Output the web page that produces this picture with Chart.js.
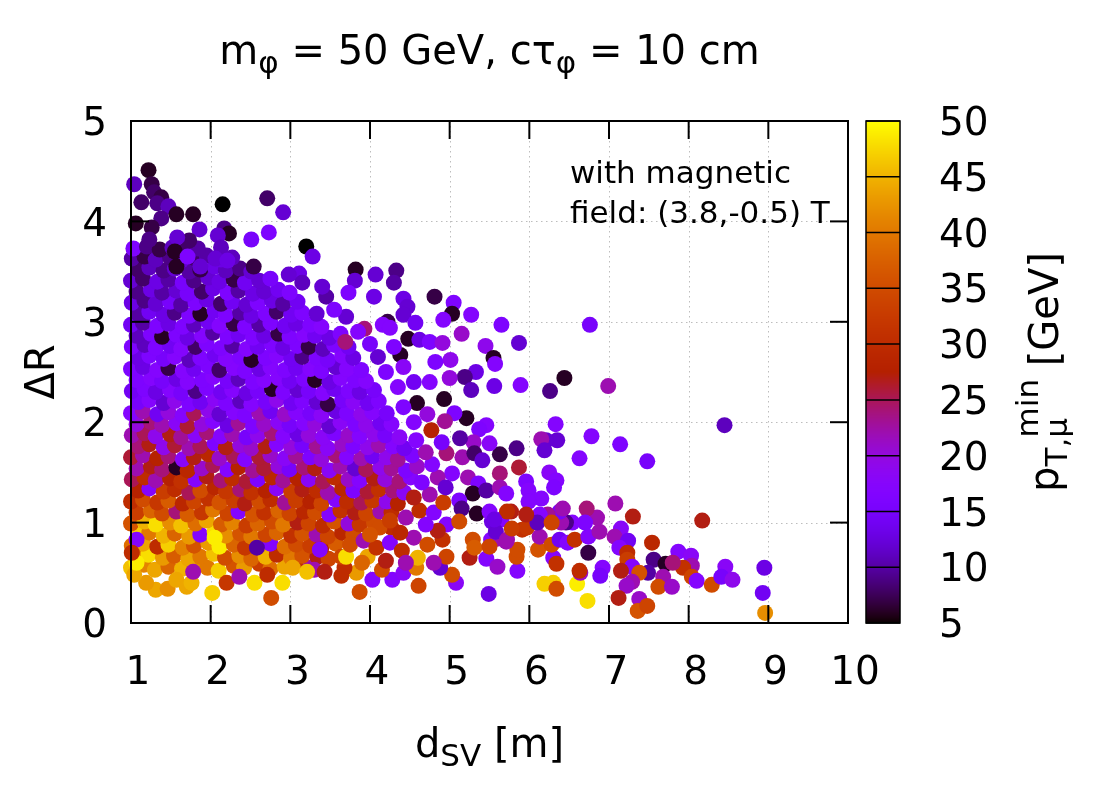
<!DOCTYPE html>
<html><head><meta charset="utf-8">
<script src="https://cdn.jsdelivr.net/npm/chart.js@4.4.1/dist/chart.umd.min.js"></script>
<style>html,body{margin:0;padding:0;background:#fff;}canvas{display:block;}</style>
</head><body>
<canvas id="c" width="1100" height="800"></canvas>
<script>
// ---------- data ----------
const xTickVals = [1,2,3,4,5,6,7,8,9,10];
const yTickVals = [0,1,2,3,4,5];
const cbTickVals = [5,10,15,20,25,30,35,40,45,50];

// d_SV [m]
const dsv = [
1.00,1.16,1.30,1.47,1.64,1.79,1.96,2.10,2.29,2.42,2.61,2.75,2.93,3.07,3.25,
1.08,1.22,1.40,1.54,1.72,1.87,2.04,2.18,2.36,2.51,2.69,2.83,3.01,3.15,3.34,3.48,
1.01,1.15,1.33,1.47,1.65,1.79,1.97,2.11,2.29,2.43,2.61,2.75,2.93,3.07,3.25,3.39,3.57,
1.09,1.23,1.41,1.55,1.73,1.87,2.05,2.19,2.37,2.51,2.69,2.83,3.01,3.15,3.33,3.47,3.65,3.79,
1.00,1.17,1.31,1.49,1.63,1.81,1.95,2.13,2.27,2.45,2.59,2.77,2.91,3.09,3.23,3.41,3.55,3.73,3.87,4.05,
1.07,1.25,1.39,1.57,1.71,1.89,2.03,2.21,2.35,2.53,2.67,2.85,2.99,3.17,3.31,3.49,3.63,3.81,3.95,4.13,4.27,
1.00,1.15,1.33,1.47,1.65,1.79,1.97,2.11,2.29,2.43,2.61,2.75,2.93,3.07,3.25,3.39,3.57,3.71,3.89,4.03,4.21,4.35,
1.09,1.23,1.41,1.55,1.73,1.87,2.05,2.19,2.37,2.51,2.69,2.83,3.01,3.15,3.33,3.47,3.65,3.79,3.97,4.11,4.29,4.43,
1.01,1.17,1.31,1.49,1.63,1.81,1.95,2.13,2.27,2.45,2.59,2.77,2.91,3.09,3.23,3.41,3.55,3.73,3.87,4.05,4.19,4.37,4.51,
1.07,1.25,1.39,1.57,1.71,1.89,2.03,2.21,2.35,2.53,2.67,2.85,2.99,3.17,3.31,3.49,3.63,3.81,3.95,4.13,4.27,4.45,4.59,
1.00,1.15,1.33,1.47,1.65,1.79,1.97,2.11,2.29,2.43,2.61,2.75,2.93,3.07,3.25,3.39,3.57,3.71,3.89,4.03,4.21,4.35,4.53,
1.09,1.23,1.41,1.55,1.73,1.87,2.05,2.19,2.37,2.51,2.69,2.83,3.01,3.15,3.33,3.47,3.65,3.79,3.97,4.11,4.29,4.43,
1.01,1.17,1.31,1.49,1.63,1.81,1.95,2.13,2.27,2.45,2.59,2.77,2.91,3.09,3.23,3.41,3.55,3.73,3.87,4.05,4.19,4.37,
1.07,1.25,1.39,1.57,1.71,1.89,2.03,2.21,2.35,2.53,2.67,2.85,2.99,3.17,3.31,3.49,3.63,3.81,3.95,4.13,4.27,
1.00,1.15,1.33,1.47,1.65,1.79,1.97,2.11,2.29,2.43,2.61,2.75,2.93,3.07,3.25,3.39,3.57,3.71,3.89,4.03,4.21,
1.09,1.23,1.41,1.55,1.73,1.87,2.05,2.19,2.37,2.51,2.69,2.83,3.01,3.15,3.33,3.47,3.65,3.79,3.97,4.11,
1.01,1.17,1.31,1.49,1.63,1.81,1.95,2.13,2.27,2.45,2.59,2.77,2.91,3.09,3.23,3.41,3.55,3.73,3.87,4.05,
1.07,1.25,1.39,1.57,1.71,1.89,2.03,2.21,2.35,2.53,2.67,2.85,2.99,3.17,3.31,3.49,3.63,3.81,3.95,
1.00,1.15,1.33,1.47,1.65,1.79,1.97,2.11,2.29,2.43,2.61,2.75,2.93,3.07,3.25,3.39,3.57,3.71,3.89,
1.09,1.23,1.41,1.55,1.73,1.87,2.05,2.19,2.37,2.51,2.69,2.83,3.01,3.15,3.33,3.47,3.65,3.79,
1.01,1.17,1.31,1.49,1.63,1.81,1.95,2.13,2.27,2.45,2.59,2.77,2.91,3.09,3.23,3.41,3.55,3.73,
1.07,1.25,1.39,1.57,1.71,1.89,2.03,2.21,2.35,2.53,2.67,2.85,2.99,3.17,3.31,3.49,3.63,
1.00,1.15,1.33,1.47,1.65,1.79,1.97,2.11,2.29,2.43,2.61,2.75,2.93,3.07,3.25,3.39,
1.09,1.23,1.41,1.55,1.73,1.87,2.05,2.19,2.37,2.51,2.69,2.83,3.01,3.15,3.33,
1.01,1.17,1.31,1.49,1.63,1.81,1.95,2.13,2.27,2.45,2.59,2.77,2.91,3.09,
1.07,1.25,1.39,1.57,1.71,1.89,2.03,2.21,2.35,2.53,2.67,2.85,2.99,
1.00,1.15,1.33,1.47,1.65,1.79,1.97,2.11,2.29,2.43,2.61,2.75,
1.09,1.23,1.41,1.55,1.73,1.87,2.05,2.19,2.37,2.51,
1.01,1.17,1.31,1.49,1.63,1.81,1.95,2.13,2.27,
1.03,1.20,1.36,1.52,1.68,1.84,
1.22,1.04,1.26,1.29,1.38,1.13,1.33,1.47,1.57,1.78,
1.38,1.06,1.26,2.15,2.71,2.91,1.86,2.17,2.23,2.09,
2.51,2.73,1.73,1.23,1.58,2.13,3.20,1.55,2.06,2.21,
1.87,2.54,1.57,1.71,3.28,3.82,3.81,4.07,4.33,4.30,
4.81,5.05,4.05,4.42,4.47,4.42,4.57,4.48,4.62,4.75,
4.91,5.15,5.45,4.38,4.22,4.16,4.25,3.93,3.69,3.73,
3.45,3.11,2.98,3.15,5.03,5.27,5.65,6.76,5.87,5.55,
5.57,5.33,5.19,5.27,5.56,5.89,6.26,6.44,6.99,8.45,
6.33,6.78,7.14,7.48,6.63,6.35,6.21,6.15,6.19,5.84,
5.63,5.87,5.46,5.37,5.50,5.30,5.21,5.13,5.06,4.94,
4.93,5.01,4.92,5.00,6.25,6.34,5.96,5.63,5.99,6.15,
6.31,5.99,7.08,7.30,8.17,7.15,7.07,7.24,7.54,7.13,
7.23,7.23,7.56,7.71,7.87,8.03,8.04,7.93,7.80,7.29,
7.15,7.49,7.38,7.29,7.22,7.68,7.62,7.79,8.04,8.10,
8.29,8.46,8.41,8.55,8.95,8.93,8.96,7.12,7.38,7.36,
7.48,6.73,6.60,6.19,6.30,6.34,5.49,5.08,5.03,4.88,
5.46,5.60,5.85,5.84,5.85,6.11,6.30,6.34,6.74,6.64,
6.92,6.89,6.63,5.25,5.29,5.31,5.52,5.60,5.71,5.50,
5.91,5.97,6.13,6.28,6.38,6.48,6.57,6.74,6.88,6.85,
6.72,6.70,6.54,6.46,6.40,6.38,6.42,6.23,6.13,6.10,
6.28,5.96,5.77,5.65,5.53,5.58,5.72,5.78,4.59,4.77,
4.96,5.16,5.31,5.41,5.03,5.23,5.36,5.29,5.46,5.63,
5.71,5.12,5.15,5.34,5.50,5.72,5.56,4.96,5.12,4.91,
4.96,4.80,3.87,4.03,4.28,4.61,4.42,4.58,4.60,4.15,
4.27,4.12,3.97,3.83,3.68,3.64,3.70,3.37,3.30,3.43,
3.64,2.90,3.03,3.21,2.02,1.31,1.46,1.19,1.57,1.70,
1.76,1.04,2.20,2.36,2.55,2.76,2.71,2.58,2.05,1.78,
1.07,1.07,1.01,3.75,3.92,4.08,4.25,4.40,4.55,4.72,
4.85,4.00,4.38,4.20,4.70,3.90,4.45,4.25,4.45,4.62,
4.80,4.55,4.75,4.92,4.65,4.85,4.78,4.95,4.70,4.58,
4.90,4.55,4.72,4.42,4.35,4.55,4.20,4.42,4.10,4.00,
3.85,4.30,3.70,3.55,3.40,4.75,4.82
];

// Delta R
const deltaR = [
0.55,0.58,0.53,0.56,0.54,0.58,0.55,0.52,0.57,0.55,0.59,0.54,0.56,0.58,0.55,
0.66,0.68,0.65,0.67,0.64,0.66,0.69,0.65,0.67,0.64,0.66,0.68,0.65,0.67,0.66,0.64,
0.77,0.79,0.76,0.78,0.75,0.77,0.80,0.76,0.78,0.75,0.77,0.79,0.76,0.78,0.77,0.75,0.79,
0.88,0.90,0.87,0.89,0.86,0.88,0.91,0.87,0.89,0.86,0.88,0.90,0.87,0.89,0.88,0.86,0.90,0.88,
0.99,1.01,0.98,1.00,0.97,0.99,1.02,0.98,1.00,0.97,0.99,1.01,0.98,1.00,0.99,0.97,1.01,0.99,0.98,1.00,
1.10,1.12,1.09,1.11,1.08,1.10,1.13,1.09,1.11,1.08,1.10,1.12,1.09,1.11,1.10,1.08,1.12,1.10,1.09,1.11,1.10,
1.21,1.23,1.20,1.22,1.19,1.21,1.24,1.20,1.22,1.19,1.21,1.23,1.20,1.22,1.21,1.19,1.23,1.21,1.20,1.22,1.21,1.19,
1.32,1.34,1.31,1.33,1.30,1.32,1.35,1.31,1.33,1.30,1.32,1.34,1.31,1.33,1.32,1.30,1.34,1.32,1.31,1.33,1.32,1.30,
1.43,1.45,1.42,1.44,1.41,1.43,1.46,1.42,1.44,1.41,1.43,1.45,1.42,1.44,1.43,1.41,1.45,1.43,1.42,1.44,1.43,1.41,1.45,
1.54,1.56,1.53,1.55,1.52,1.54,1.57,1.53,1.55,1.52,1.54,1.56,1.53,1.55,1.54,1.52,1.56,1.54,1.53,1.55,1.54,1.52,1.56,
1.65,1.67,1.64,1.66,1.63,1.65,1.68,1.64,1.66,1.63,1.65,1.67,1.64,1.66,1.65,1.63,1.67,1.65,1.64,1.66,1.65,1.63,1.67,
1.76,1.78,1.75,1.77,1.74,1.76,1.79,1.75,1.77,1.74,1.76,1.78,1.75,1.77,1.76,1.74,1.78,1.76,1.75,1.77,1.76,1.74,
1.87,1.89,1.86,1.88,1.85,1.87,1.90,1.86,1.88,1.85,1.87,1.89,1.86,1.88,1.87,1.85,1.89,1.87,1.86,1.88,1.87,1.85,
1.98,2.00,1.97,1.99,1.96,1.98,2.01,1.97,1.99,1.96,1.98,2.00,1.97,1.99,1.98,1.96,2.00,1.98,1.97,1.99,1.98,
2.09,2.11,2.08,2.10,2.07,2.09,2.12,2.08,2.10,2.07,2.09,2.11,2.08,2.10,2.09,2.07,2.11,2.09,2.08,2.10,2.09,
2.20,2.22,2.19,2.21,2.18,2.20,2.23,2.19,2.21,2.18,2.20,2.22,2.19,2.21,2.20,2.18,2.22,2.20,2.19,2.21,
2.31,2.33,2.30,2.32,2.29,2.31,2.34,2.30,2.32,2.29,2.31,2.33,2.30,2.32,2.31,2.29,2.33,2.31,2.30,2.32,
2.42,2.44,2.41,2.43,2.40,2.42,2.45,2.41,2.43,2.40,2.42,2.44,2.41,2.43,2.42,2.40,2.44,2.42,2.41,
2.53,2.55,2.52,2.54,2.51,2.53,2.56,2.52,2.54,2.51,2.53,2.55,2.52,2.54,2.53,2.51,2.55,2.53,2.52,
2.64,2.66,2.63,2.65,2.62,2.64,2.67,2.63,2.65,2.62,2.64,2.66,2.63,2.65,2.64,2.62,2.66,2.64,
2.75,2.77,2.74,2.76,2.73,2.75,2.78,2.74,2.76,2.73,2.75,2.77,2.74,2.76,2.75,2.73,2.77,2.75,
2.86,2.88,2.85,2.87,2.84,2.86,2.89,2.85,2.87,2.84,2.86,2.88,2.85,2.87,2.86,2.84,2.88,
2.97,2.99,2.96,2.98,2.95,2.97,3.00,2.96,2.98,2.95,2.97,2.99,2.96,2.98,2.97,2.95,
3.08,3.10,3.07,3.09,3.06,3.08,3.11,3.07,3.09,3.06,3.08,3.10,3.07,3.09,3.08,
3.19,3.21,3.18,3.20,3.17,3.19,3.22,3.18,3.20,3.17,3.19,3.21,3.18,3.20,
3.30,3.32,3.29,3.31,3.28,3.30,3.33,3.29,3.31,3.28,3.30,3.32,3.29,
3.41,3.43,3.40,3.42,3.39,3.41,3.44,3.40,3.42,3.39,3.41,3.43,
3.52,3.54,3.51,3.53,3.50,3.52,3.55,3.51,3.53,3.50,
3.63,3.65,3.62,3.64,3.61,3.63,3.66,3.62,3.64,
3.73,3.75,3.72,3.74,3.71,3.73,
4.51,4.37,4.37,4.29,4.24,4.19,4.18,4.15,4.07,4.07,
4.03,3.98,3.94,4.17,4.23,4.09,3.92,3.93,3.88,3.86,
3.82,3.89,3.81,3.82,3.84,3.74,3.75,3.70,3.63,3.61,
3.55,3.55,3.55,3.65,3.65,3.52,3.41,3.47,3.51,3.39,
3.25,3.19,3.25,3.23,3.15,3.07,2.99,2.83,2.82,2.80,
2.79,2.88,2.76,2.67,3.00,2.97,2.94,2.93,2.80,3.29,
3.25,3.48,3.47,3.39,3.08,3.07,2.97,2.97,2.79,2.64,
2.58,2.50,2.45,2.32,2.36,2.37,2.31,2.44,2.36,1.97,
1.98,1.86,1.78,1.61,1.64,1.82,1.82,1.83,1.72,1.74,
1.68,1.55,1.97,1.93,1.79,1.80,2.04,1.84,2.09,2.01,
2.23,2.62,3.02,2.44,1.50,1.42,1.41,1.49,1.32,1.24,
1.35,1.21,1.19,1.06,1.02,0.94,0.86,0.82,0.80,0.75,
0.70,0.63,0.63,0.59,0.71,0.67,0.57,0.55,0.60,0.56,
0.52,0.50,0.50,0.41,0.37,0.46,0.36,0.36,0.46,0.42,
0.38,0.56,0.46,0.43,0.55,0.30,0.10,0.25,0.24,0.12,
0.17,0.22,0.39,0.39,0.40,0.34,0.29,0.40,0.48,0.55,
0.64,0.56,0.52,0.66,0.73,0.73,0.65,0.59,0.70,0.50,
0.55,0.47,0.52,0.65,0.83,0.75,0.83,0.84,0.81,0.76,
0.93,0.95,0.86,0.78,0.83,0.80,0.83,0.86,0.91,1.05,
1.14,1.00,1.00,1.00,1.00,1.11,1.14,1.08,1.08,1.00,
1.00,1.08,1.11,1.03,1.01,0.91,0.83,0.94,2.19,1.92,
1.69,1.65,1.69,1.62,1.49,1.45,1.39,1.29,1.32,1.35,
1.29,1.22,1.14,1.09,1.11,1.11,1.03,0.98,1.01,0.83,
0.66,0.60,0.31,0.43,0.43,0.37,0.50,0.55,0.65,0.53,
0.95,0.95,0.66,0.50,0.55,0.66,0.66,0.73,0.53,0.51,
0.47,0.40,0.55,0.51,0.30,0.33,0.34,0.40,0.43,0.36,
0.40,0.48,0.40,0.46,0.40,0.25,0.48,0.75,0.85,0.51,
0.60,0.83,0.70,0.78,0.82,0.75,0.80,0.72,0.85,0.78,
0.92,0.88,0.90,0.62,0.98,0.60,0.60,1.02,1.05,1.12,
1.10,1.25,1.28,1.20,1.40,1.45,1.58,1.35,1.70,1.82,
1.80,2.00,2.08,2.15,2.35,2.40,2.50,2.55,2.65,2.78,
2.90,2.75,3.05,3.12,3.35,2.40,2.60
];

// p_T,mu^min [GeV]
const ptMin = [
46,41,44,38,45,42,40,47,36,43,33,39,44,31,22,
41,48,43,37,44,40,46,35,42,38,45,30,40,36,27,34,
39,44,30,47,41,36,43,49,38,32,44,17,39,35,33,28,37,
47,40,45,38,43,17,48,42,36,40,34,38,31,36,22,34,29,35,
36,45,48,42,46,39,44,37,41,33,38,35,40,27,34,30,36,20,32,35,
33,38,35,24,37,32,40,34,17,36,31,38,34,29,35,17,31,27,34,22,30,
30,35,32,37,29,34,31,36,33,27,35,30,23,33,28,34,17,30,25,32,19,28,
28,17,33,30,25,35,29,32,24,31,28,18,33,27,30,22,29,16,26,31,24,18,
25,30,22,28,31,17,27,24,30,26,16,29,23,28,18,25,30,21,17,27,20,24,17,
22,27,24,6,29,21,25,17,28,23,26,20,15,24,27,18,22,12,25,19,23,16,21,
26,22,28,24,18,27,29,21,25,17,26,21,18,23,16,20,24,17,22,14,19,23,16,
24,27,19,26,22,25,16,27,20,21,27,17,20,15,23,18,21,16,19,22,17,14,
22,25,19,27,23,18,24,17,22,15,19,24,17,13,20,18,16,21,17,19,15,18,
20,24,22,18,26,20,17,13,23,16,21,18,15,17,20,12,18,16,19,14,17,
17,22,14,20,17,25,19,12,17,16,22,14,21,17,15,18,13,16,19,17,15,
15,17,12,19,16,14,18,16,11,17,15,19,14,16,12,7,15,18,14,16,
14,16,13,17,15,9,16,14,17,13,15,6,16,12,15,17,14,16,13,15,
16,17,15,13,17,16,17,15,11,16,17,17,14,16,6,13,17,16,17,
16,13,17,7,17,14,16,8,17,16,13,17,16,14,17,16,12,17,16,
13,16,15,17,11,16,14,17,16,6,16,17,14,9,16,15,17,13,
16,11,16,14,17,8,16,16,10,17,14,16,13,16,7,11,16,14,
11,16,6,16,13,17,10,16,14,16,13,7,16,17,14,13,16,
14,10,16,13,16,11,14,17,7,16,10,16,14,13,16,17,
10,14,13,9,16,6,14,16,10,13,16,8,14,16,12,
13,9,12,15,10,16,13,8,14,12,16,13,10,14,
9,13,10,12,15,8,13,16,10,13,12,14,16,
12,8,13,10,15,9,12,13,7,14,12,15,
8,11,9,12,10,7,13,11,9,12,
10,7,11,9,12,8,10,13,11,
16,9,7,11,8,10,
6,11,7,8,7,8,9,11,6,6,
9,6,7,5,8,12,12,9,6,12,
15,16,8,9,12,11,5,6,12,13,
12,7,6,16,13,6,12,12,9,10,
7,16,13,13,12,12,14,6,13,16,
20,21,19,6,7,17,17,24,24,16,
10,13,12,11,6,17,16,15,12,6,
17,13,9,11,13,17,9,6,22,11,
17,17,16,15,17,12,12,22,12,9,
7,26,17,16,18,21,6,10,16,23,
6,19,17,20,18,17,16,24,17,17,
16,17,22,27,27,18,22,14,29,17,
30,33,9,6,17,18,22,31,24,17,
27,10,36,22,21,22,35,21,34,17,
35,18,15,19,13,14,42,27,21,36,
34,48,49,47,47,35,13,18,35,12,
17,21,17,35,35,36,17,31,7,21,
17,15,30,27,35,37,17,22,22,34,
31,32,22,35,14,17,31,17,22,22,
24,16,17,9,22,15,22,23,17,11,
34,27,27,17,13,12,22,33,6,28,
24,22,8,12,17,22,16,6,10,22,
17,16,9,6,17,30,13,17,35,31,
34,22,35,17,17,34,18,40,45,35,
30,35,44,43,30,34,48,17,22,27,
30,48,44,46,47,44,42,43,44,44,
45,44,32,22,48,35,30,10,49,22,
49,17,30,35,22,31,17,30,22,35,
27,36,29,27,17,38,22,33,22,30,
17,27,22,33,16,22,17,12,22,17,
15,17,20,16,17,14,16,18,12,15,
17,16,12,16,12,17,16
];

// ---------- helpers ----------
const FONT = 'DejaVu Sans';
const CB_MIN = 5, CB_MAX = 50;
function palette(v){
  const t = Math.min(1, Math.max(0, (v - CB_MIN) / (CB_MAX - CB_MIN)));
  const r = Math.sqrt(t), g = t*t*t, b = Math.max(0, Math.sin(2*Math.PI*t));
  return 'rgb(' + Math.round(r*255) + ',' + Math.round(g*255) + ',' + Math.round(b*255) + ')';
}
const n = Math.min(dsv.length, deltaR.length, ptMin.length);
const points = [], colors = [];
for (let i = 0; i < n; i++){ points.push({x: dsv[i], y: deltaR[i]}); colors.push(palette(ptMin[i])); }

function setFont(ctx, size){ ctx.font = size + 'px "' + FONT + '"'; }
function richWidth(ctx, parts){
  let w = 0;
  for (const p of parts){ setFont(ctx, p.size); w += ctx.measureText(p.t).width * (p.adv == null ? 1 : p.adv); }
  return w;
}
function drawRich(ctx, parts, x, y){
  let cx = x;
  for (const p of parts){
    setFont(ctx, p.size);
    ctx.fillText(p.t, cx, y + (p.dy || 0));
    cx += ctx.measureText(p.t).width * (p.adv == null ? 1 : p.adv);
  }
}

const TICKLEN = 18;
const decor = {
  id: 'decor',
  beforeDraw(chart){
    const c = chart.ctx; c.save(); c.fillStyle = '#fff'; c.fillRect(0, 0, chart.width, chart.height); c.restore();
  },
  beforeDatasetsDraw(chart){
    const c = chart.ctx, a = chart.chartArea, x = chart.scales.x, y = chart.scales.y;
    c.save();
    c.strokeStyle = '#bdbdbd'; c.lineWidth = 1; c.setLineDash([1.5, 3.5]);
    xTickVals.forEach(v => {
      if (v <= x.min || v >= x.max) return;
      const px = Math.round(x.getPixelForValue(v)) + 0.5;
      c.beginPath(); c.moveTo(px, a.top); c.lineTo(px, a.bottom); c.stroke();
    });
    yTickVals.forEach(v => {
      if (v <= y.min || v >= y.max) return;
      const py = Math.round(y.getPixelForValue(v)) + 0.5;
      c.beginPath(); c.moveTo(a.left, py); c.lineTo(a.right, py); c.stroke();
    });
    c.restore();
  },
  afterDatasetsDraw(chart){
    const c = chart.ctx, a = chart.chartArea, x = chart.scales.x, y = chart.scales.y, cb = chart.scales.cb;
    c.save();
    c.strokeStyle = '#000'; c.lineWidth = 2; c.setLineDash([]);
    xTickVals.forEach(v => {
      const px = x.getPixelForValue(v);
      c.beginPath(); c.moveTo(px, a.bottom); c.lineTo(px, a.bottom - TICKLEN); c.stroke();
      c.beginPath(); c.moveTo(px, a.top); c.lineTo(px, a.top + TICKLEN); c.stroke();
    });
    yTickVals.forEach(v => {
      const py = y.getPixelForValue(v);
      c.beginPath(); c.moveTo(a.left, py); c.lineTo(a.left + TICKLEN, py); c.stroke();
      c.beginPath(); c.moveTo(a.right, py); c.lineTo(a.right - TICKLEN, py); c.stroke();
    });
    c.strokeRect(a.left, a.top, a.right - a.left, a.bottom - a.top);
    const bx0 = 866, bx1 = 900;
    const top = cb.getPixelForValue(CB_MAX), bot = cb.getPixelForValue(CB_MIN);
    for (let py = Math.floor(top); py < Math.ceil(bot); py++){
      c.fillStyle = palette(cb.getValueForPixel(py + 0.5));
      c.fillRect(bx0, py, bx1 - bx0, 1);
    }
    c.lineWidth = 1.5;
    cbTickVals.forEach(v => {
      const py = cb.getPixelForValue(v);
      c.beginPath(); c.moveTo(bx0, py); c.lineTo(bx1, py); c.stroke();
    });
    c.strokeRect(bx0, top, bx1 - bx0, bot - top);
    c.restore();
  },
  afterDraw(chart){
    const c = chart.ctx, a = chart.chartArea;
    const cxm = (a.left + a.right) / 2, cym = (a.top + a.bottom) / 2;
    c.save();
    c.fillStyle = '#000'; c.textBaseline = 'alphabetic'; c.textAlign = 'left';
    const S = 40, s = 31;
    const title = [
      {t:'m', size:S}, {t:'φ', size:s, dy:9}, {t:' = 50 GeV, cτ', size:S}, {t:'φ', size:s, dy:9}, {t:' = 10 cm', size:S}
    ];
    drawRich(c, title, cxm - richWidth(c, title)/2, 64);
    const xl = [{t:'d', size:S}, {t:'SV', size:s, dy:9}, {t:' [m]', size:S}];
    drawRich(c, xl, cxm - richWidth(c, xl)/2, 757);
    c.save(); c.translate(54, cym); c.rotate(-Math.PI/2);
    setFont(c, S); c.textAlign = 'center'; c.fillText('ΔR', 0, 0);
    c.restore();
    c.save(); c.translate(1058, cym); c.rotate(-Math.PI/2);
    c.textAlign = 'left';
    const cl = [{t:'p', size:S}, {t:'T,μ', size:s, dy:9, adv:0.6}, {t:'min', size:s, dy:-20}, {t:' [GeV]', size:S}];
    drawRich(c, cl, -richWidth(c, cl)/2, 0);
    c.restore();
    setFont(c, 31);
    c.fillText('with magnetic', 570, 183);
    c.fillText('field: (3.8,-0.5) T', 570, 223);
    c.restore();
  }
};

const tickFont = {family: FONT, size: 39};
new Chart(document.getElementById('c'), {
  type: 'scatter',
  data: { datasets: [{
    data: points, backgroundColor: colors, pointRadius: 8, pointHoverRadius: 8,
    borderWidth: 0, pointBorderWidth: 0, clip: false
  }]},
  options: {
    responsive: false, animation: false, devicePixelRatio: 1,
    events: [],
    plugins: { legend: {display: false}, tooltip: {enabled: false}, title: {display: false} },
    layout: { padding: {top: 121, left: 0, right: 0, bottom: 0} },
    scales: {
      x: {
        type: 'linear', min: 1, max: 10,
        afterBuildTicks: sc => { sc.ticks = xTickVals.map(v => ({value: v})); },
        ticks: {color: '#000', font: tickFont, padding: 27, labelOffset: 7, maxRotation: 0, autoSkip: false},
        grid: {display: false, drawTicks: false}, border: {display: false},
        afterFit: sc => { sc.height = 177; }
      },
      y: {
        type: 'linear', min: 0, max: 5,
        afterBuildTicks: sc => { sc.ticks = yTickVals.map(v => ({value: v})); },
        ticks: {color: '#000', font: tickFont, padding: 24, labelOffset: 4, autoSkip: false},
        grid: {display: false, drawTicks: false}, border: {display: false},
        afterFit: sc => { sc.width = 131; }
      },
      cb: {
        axis: 'y', type: 'linear', position: 'right', min: CB_MIN, max: CB_MAX,
        afterBuildTicks: sc => { sc.ticks = cbTickVals.map(v => ({value: v})); },
        ticks: {color: '#000', font: tickFont, padding: 91, labelOffset: 4, autoSkip: false},
        grid: {display: false, drawTicks: false}, border: {display: false},
        afterFit: sc => { sc.width = 252; }
      }
    }
  },
  plugins: [decor]
});
</script>
</body></html>
